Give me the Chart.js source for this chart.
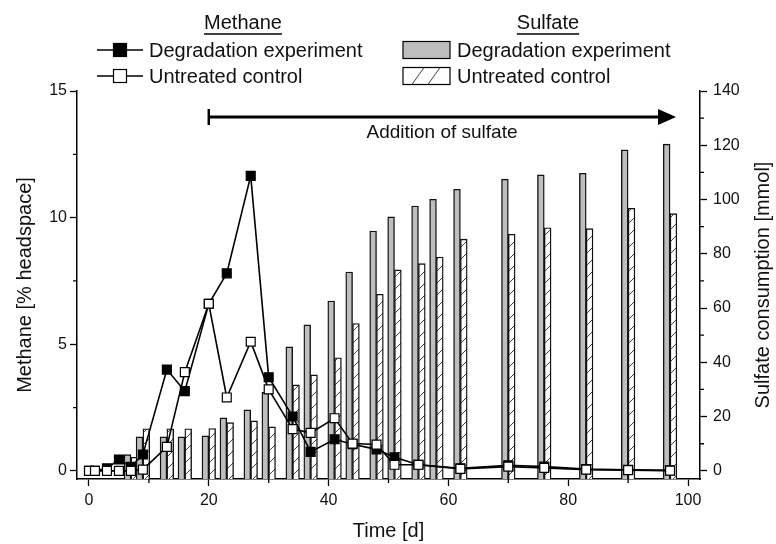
<!DOCTYPE html>
<html>
<head>
<meta charset="utf-8">
<script src="https://cdn.jsdelivr.net/npm/chart.js@4.4.1/dist/chart.umd.min.js"></script>
<style>
  html, body { margin: 0; padding: 0; background: #fff; }
  #wrap { width: 776px; height: 544px; }
</style>
</head>
<body>
<div id="wrap"><canvas id="chart" width="776" height="544"></canvas></div>
<script>
// methane in headspace (%), sampled days
const methaneDays = [0, 1, 3, 5, 7, 9, 13, 16, 20, 23, 27, 30, 34, 37, 41, 44, 48, 51, 55, 62, 70, 76, 83, 90, 97];
const methaneDeg  = [0, 0, 0.1, 0.45, 0.16, 0.65, 4.0, 3.15, 6.6, 7.8, 11.65, 3.7, 2.15, 0.75, 1.25, 1.05, 0.85, 0.54, 0.24, 0.1, 0.22, 0.17, 0.07, 0.04, 0.02];
const methaneCtrl = [0, 0, 0, 0, 0, 0.05, 0.95, 3.9, 6.6, 2.9, 5.1, 3.22, 1.65, 1.5, 2.08, 1.08, 1.04, 0.24, 0.24, 0.08, 0.17, 0.12, 0.05, 0.03, 0.01];

// sulfate consumption (mmol)
const sulfateDays = [7, 9, 13, 16, 20, 23, 27, 30, 34, 37, 41, 44, 48, 51, 55, 58, 62, 70, 76, 83, 90, 97];
const sulfateDeg  = [6, 12.5, 12.5, 12.5, 12.9, 19.5, 22.5, 28.9, 45.7, 53.8, 62.6, 73.3, 88.4, 93.6, 97.6, 100.1, 103.8, 107.5, 109.1, 109.7, 118.3, 120.4];
const sulfateCtrl = [5, 15.5, 15.5, 15.5, 15.6, 17.8, 18.4, 16.2, 31.7, 35.4, 41.7, 54.3, 65.1, 74.1, 76.4, 78.8, 85.4, 87.2, 89.6, 89.3, 96.8, 94.8];

const xTicks = [0, 20, 40, 60, 80, 100];
const xMinor = [10, 30, 50, 70, 90];
const yTicks = [0, 5, 10, 15];
const yMinor = [2.5, 7.5, 12.5];
const y2Ticks = [0, 20, 40, 60, 80, 100, 120, 140];
const y2Minor = [10, 30, 50, 70, 90, 110, 130];

const FONT = "'Liberation Sans', Arial, sans-serif";

function hatchPattern() {
    const c = document.createElement('canvas');
    c.width = 12; c.height = 12;
    const g = c.getContext('2d');
    g.fillStyle = '#fff';
    g.fillRect(0, 0, 12, 12);
    g.strokeStyle = '#444';
    g.lineWidth = 1;
    g.beginPath();
    g.moveTo(0, 12); g.lineTo(12, 0);
    g.moveTo(-1, 1); g.lineTo(1, -1);
    g.moveTo(11, 13); g.lineTo(13, 11);
    g.stroke();
    return g.createPattern(c, 'repeat');
}
const hatch = hatchPattern();

const pts = (xs, ys) => xs.map((d, i) => ({ x: d, y: ys[i] }));

const extras = {
    id: 'extras',
    afterDraw(chart) {
        const ctx = chart.ctx;
        const { x, y, y2 } = chart.scales;
        const a = chart.chartArea;
        ctx.save();
        ctx.strokeStyle = '#000';
        ctx.lineWidth = 1.3;
        ctx.beginPath();
        xMinor.forEach(v => { const p = x.getPixelForValue(v); ctx.moveTo(p, a.bottom); ctx.lineTo(p, a.bottom + 4); });
        yMinor.forEach(v => { const p = y.getPixelForValue(v); ctx.moveTo(a.left, p); ctx.lineTo(a.left - 4, p); });
        y2Minor.forEach(v => { const p = y2.getPixelForValue(v); ctx.moveTo(a.right, p); ctx.lineTo(a.right + 4, p); });
        ctx.stroke();

        ctx.fillStyle = '#111';
        ctx.textBaseline = 'middle';
        ctx.textAlign = 'center';
        ctx.font = '20px ' + FONT;
        ctx.fillText('Time [d]', (a.left + a.right) / 2, 531);
        const cy = (a.top + a.bottom) / 2;
        ctx.save(); ctx.translate(25, cy); ctx.rotate(-Math.PI / 2);
        ctx.fillText('Methane [% headspace]', 0, 0); ctx.restore();
        ctx.save(); ctx.translate(763, cy); ctx.rotate(-Math.PI / 2);
        ctx.fillText('Sulfate consumption [mmol]', 0, 0); ctx.restore();

        // arrow for sulfate addition
        const ax0 = x.getPixelForValue(20), ax1 = x.getPixelForValue(98), ay = 117;
        ctx.lineWidth = 3;
        ctx.beginPath();
        ctx.moveTo(ax0, ay); ctx.lineTo(ax1 - 14, ay);
        ctx.stroke();
        ctx.lineWidth = 2.5;
        ctx.beginPath(); ctx.moveTo(ax0, ay - 8); ctx.lineTo(ax0, ay + 8); ctx.stroke();
        ctx.fillStyle = '#000';
        ctx.beginPath();
        ctx.moveTo(ax1, ay); ctx.lineTo(ax1 - 18, ay - 8); ctx.lineTo(ax1 - 18, ay + 8); ctx.closePath();
        ctx.fill();
        ctx.fillStyle = '#111';
        ctx.font = '19px ' + FONT;
        ctx.fillText('Addition of sulfate', 442, 133);

        // legend
        ctx.font = '20px ' + FONT;
        const heads = [['Methane', 243], ['Sulfate', 548]];
        heads.forEach(([t, cx]) => {
            ctx.textAlign = 'center';
            ctx.fillText(t, cx, 23);
            const w = ctx.measureText(t).width;
            ctx.lineWidth = 1.3;
            ctx.beginPath(); ctx.moveTo(cx - w / 2, 34); ctx.lineTo(cx + w / 2, 34); ctx.stroke();
        });
        const rows = [50, 76];
        ctx.textAlign = 'left';
        [['#000', 'Degradation experiment'], ['#fff', 'Untreated control']].forEach(([fill, label], i) => {
            const ry = rows[i];
            ctx.lineWidth = 1.6;
            ctx.beginPath(); ctx.moveTo(97, ry); ctx.lineTo(143, ry); ctx.stroke();
            ctx.fillStyle = fill;
            ctx.fillRect(113.5, ry - 6.5, 13, 13);
            ctx.lineWidth = 1.2;
            ctx.strokeRect(113.5, ry - 6.5, 13, 13);
            ctx.fillStyle = '#111';
            ctx.fillText(label, 149, ry + 1);
        });
        ctx.fillStyle = '#bebebe';
        ctx.fillRect(403, rows[0] - 8.5, 47, 17);
        ctx.strokeRect(403, rows[0] - 8.5, 47, 17);
        ctx.fillStyle = '#fff';
        ctx.fillRect(403, rows[1] - 8.5, 47, 17);
        ctx.strokeStyle = '#444';
        ctx.lineWidth = 1;
        ctx.beginPath();
        [412, 428].forEach(sx => { ctx.moveTo(sx, rows[1] + 8.5); ctx.lineTo(sx + 12, rows[1] - 8.5); });
        ctx.stroke();
        ctx.strokeStyle = '#000';
        ctx.lineWidth = 1.2;
        ctx.strokeRect(403, rows[1] - 8.5, 47, 17);
        ctx.fillStyle = '#111';
        ctx.fillText('Degradation experiment', 457, rows[0] + 1);
        ctx.fillText('Untreated control', 457, rows[1] + 1);
        ctx.restore();
    }
};

const axisGrid = { drawOnChartArea: false, drawTicks: true, tickLength: 7, tickColor: '#000', tickWidth: 1.3, offset: false };
const axisBorder = { display: true, color: '#000', width: 1.5 };
const tickFont = { family: FONT, size: 16 };

new Chart(document.getElementById('chart'), {
    type: 'bar',
    data: {
        datasets: [
            {
                type: 'line', label: 'Untreated control (methane)', yAxisID: 'y', order: 0,
                data: pts(methaneDays, methaneCtrl),
                borderColor: '#000', borderWidth: 1.6, tension: 0,
                pointStyle: 'rect', pointRadius: 6.3, pointBorderWidth: 1.2,
                pointBackgroundColor: '#fff', pointBorderColor: '#000'
            },
            {
                type: 'line', label: 'Degradation experiment (methane)', yAxisID: 'y', order: 1,
                data: pts(methaneDays, methaneDeg),
                borderColor: '#000', borderWidth: 1.6, tension: 0,
                pointStyle: 'rect', pointRadius: 6.3, pointBorderWidth: 1.2,
                pointBackgroundColor: '#000', pointBorderColor: '#000'
            },
            {
                label: 'Degradation experiment (sulfate)', yAxisID: 'y2', order: 2,
                data: pts(sulfateDays, sulfateDeg),
                backgroundColor: '#bebebe', borderColor: '#111', borderWidth: 1.4,
                barThickness: 6.8, base: -3
            },
            {
                label: 'Untreated control (sulfate)', yAxisID: 'y2', order: 3,
                data: pts(sulfateDays, sulfateCtrl),
                backgroundColor: hatch, borderColor: '#111', borderWidth: 1.4,
                barThickness: 6.8, base: -3
            }
        ]
    },
    options: {
        responsive: false,
        animation: false,
        devicePixelRatio: 1,
        layout: { padding: { top: 91, left: 0, right: 0, bottom: 0 } },
        plugins: { legend: { display: false }, tooltip: { enabled: false } },
        scales: {
            x: {
                type: 'linear', min: -2, max: 102, offset: false,
                grid: axisGrid, border: axisBorder,
                ticks: { color: '#111', font: tickFont, padding: 5, maxRotation: 0 },
                afterBuildTicks: s => { s.ticks = xTicks.map(v => ({ value: v })); },
                afterFit: s => { s.height = 65; }
            },
            y: {
                type: 'linear', position: 'left', min: -0.32, max: 15,
                grid: axisGrid, border: axisBorder,
                ticks: { color: '#111', font: tickFont, padding: 3 },
                afterBuildTicks: s => { s.ticks = yTicks.map(v => ({ value: v })); },
                afterFit: s => { s.width = 77; }
            },
            y2: {
                type: 'linear', position: 'right', min: -3, max: 140,
                grid: axisGrid, border: axisBorder,
                ticks: { color: '#111', font: tickFont, padding: 6 },
                afterBuildTicks: s => { s.ticks = y2Ticks.map(v => ({ value: v })); },
                afterFit: s => { s.width = 76; }
            }
        }
    },
    plugins: [extras]
});
</script>
</body>
</html>
